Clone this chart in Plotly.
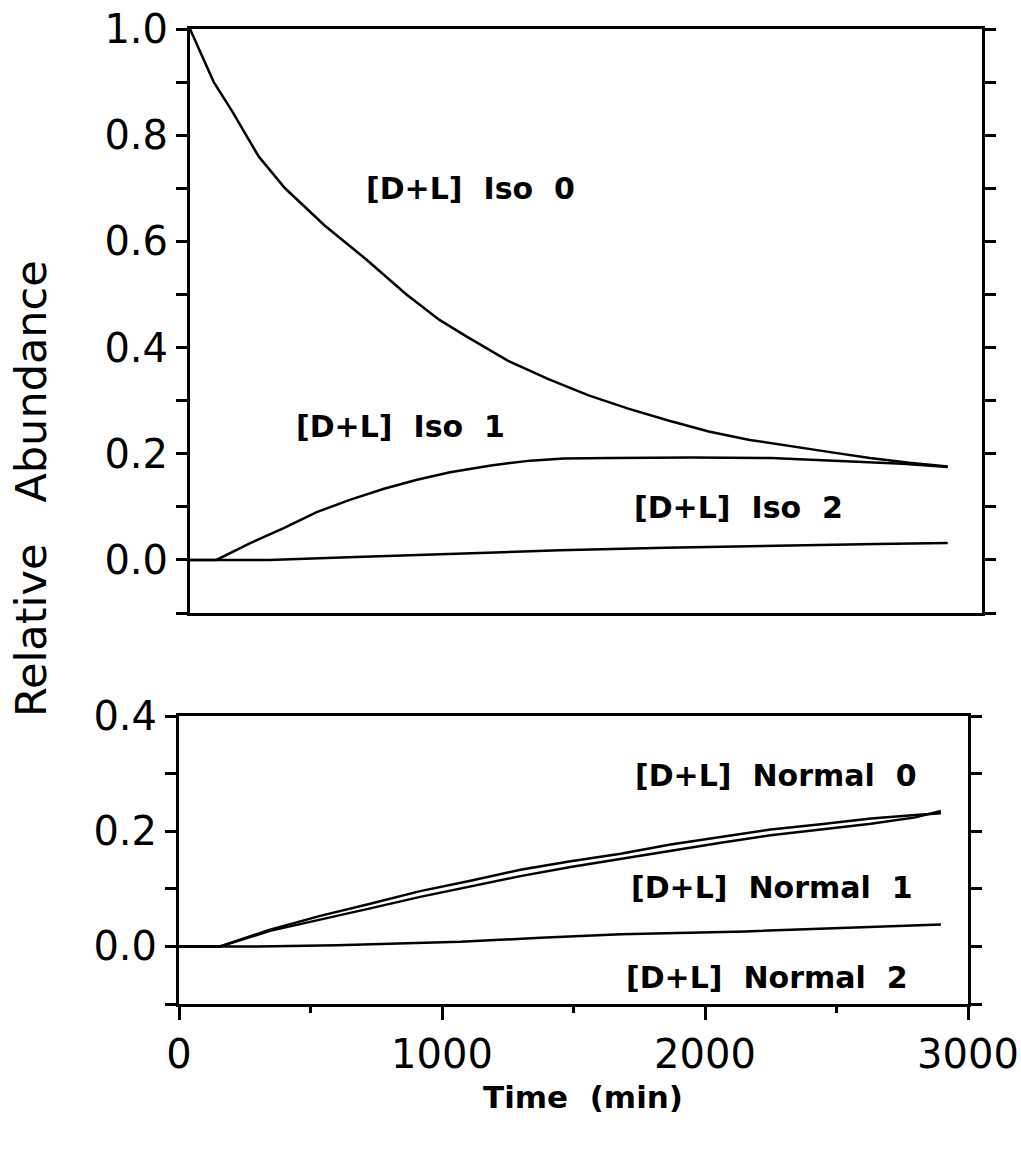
import plotly.graph_objects as go

W, H = 1021, 1155

# ---- data ----
iso0_t = [0, 90, 160, 260, 360, 510, 670, 820, 945, 1050, 1205, 1360, 1510, 1660, 1815, 1965, 2120, 2270, 2425, 2575, 2725, 2870]
iso0_v = [1.0, 0.90, 0.845, 0.76, 0.70, 0.63, 0.565, 0.50, 0.452, 0.42, 0.375, 0.34, 0.31, 0.285, 0.262, 0.242, 0.226, 0.214, 0.203, 0.192, 0.183, 0.176]

iso1_t = [0, 100, 230, 355, 480, 605, 735, 860, 985, 1140, 1290, 1415, 1600, 1900, 2200, 2350, 2510, 2700, 2870]
iso1_v = [0, 0, 0.032, 0.06, 0.09, 0.113, 0.134, 0.151, 0.165, 0.178, 0.187, 0.191, 0.192, 0.193, 0.192, 0.189, 0.186, 0.181, 0.175]

iso2_t = [0, 300, 600, 1000, 1400, 1800, 2200, 2600, 2870]
iso2_v = [0, 0, 0.005, 0.012, 0.018, 0.023, 0.027, 0.030, 0.032]

normal_t = [0, 156, 346, 537, 727, 917, 1108, 1298, 1489, 1679, 1869, 2060, 2250, 2440, 2631, 2800, 2897]
normal0_v = [0, 0, 0.029, 0.053, 0.074, 0.096, 0.114, 0.133, 0.148, 0.161, 0.177, 0.19, 0.203, 0.212, 0.222, 0.228, 0.231]
normal1_v = [0, 0, 0.027, 0.046, 0.066, 0.086, 0.104, 0.122, 0.138, 0.152, 0.167, 0.18, 0.193, 0.203, 0.213, 0.224, 0.235]

normal2_t = [0, 300, 600, 1070, 1375, 1680, 2155, 2440, 2725, 2897]
normal2_v = [0, 0, 0.002, 0.008, 0.015, 0.021, 0.026, 0.031, 0.036, 0.038]

top_yticks = [-0.1, 0.0, 0.1, 0.2, 0.3, 0.4, 0.5, 0.6, 0.7, 0.8, 0.9, 1.0]
top_ylabels = ["", "0.0", "", "0.2", "", "0.4", "", "0.6", "", "0.8", "", "1.0"]
bot_yticks = [-0.1, 0.0, 0.1, 0.2, 0.3, 0.4]
bot_ylabels = ["", "0.0", "", "0.2", "", "0.4"]
x_ticks = [0, 1000, 2000, 3000]

top_names = ["Iso\u00a0\u00a00", "Iso\u00a0\u00a01", "Iso\u00a0\u00a02"]
bot_names = ["Normal\u00a0\u00a00", "Normal\u00a0\u00a01", "Normal\u00a0\u00a02"]

# ---- figure ----
fig = go.Figure()
line = dict(color="black", width=2.5)
fig.add_trace(go.Scatter(x=iso0_t, y=iso0_v, mode="lines", line=line, xaxis="x", yaxis="y"))
fig.add_trace(go.Scatter(x=iso1_t, y=iso1_v, mode="lines", line=line, xaxis="x", yaxis="y"))
fig.add_trace(go.Scatter(x=iso2_t, y=iso2_v, mode="lines", line=line, xaxis="x", yaxis="y"))
fig.add_trace(go.Scatter(x=normal_t, y=normal0_v, mode="lines", line=line, xaxis="x2", yaxis="y2"))
fig.add_trace(go.Scatter(x=normal_t, y=normal1_v, mode="lines", line=line, xaxis="x2", yaxis="y2"))
fig.add_trace(go.Scatter(x=normal2_t, y=normal2_v, mode="lines", line=line, xaxis="x2", yaxis="y2"))

tickfont = dict(family="DejaVu Sans", size=40, color="black")

def px(x):
    return x / W

def py(y):
    return 1 - y / H

fig.update_layout(
    width=W, height=H,
    margin=dict(l=0, r=0, t=0, b=0, autoexpand=False),
    paper_bgcolor="white", plot_bgcolor="white",
    showlegend=False,
    xaxis=dict(domain=[px(190), px(982)], range=[0, 3000], showline=True, linecolor="black",
               linewidth=3, mirror=True, ticks="", showticklabels=False, showgrid=False,
               zeroline=False, anchor="y", automargin=False),
    yaxis=dict(domain=[py(613), py(29)], range=[-0.1, 1.0], showline=True, linecolor="black",
               linewidth=3, mirror="ticks", ticks="outside", ticklen=11, tickwidth=2.5,
               tickcolor="black", tickvals=top_yticks, ticktext=top_ylabels, tickfont=tickfont,
               showgrid=False, zeroline=False, anchor="x", automargin=False),
    xaxis2=dict(domain=[px(179), px(968)], range=[0, 3000], showline=True, linecolor="black",
                linewidth=3, mirror=True, ticks="outside", ticklen=13, tickwidth=2.5,
                tickcolor="black", tickvals=x_ticks, tickfont=tickfont, showgrid=False,
                zeroline=False, anchor="y2", automargin=False,
                minor=dict(dtick=500, tick0=0, ticks="outside", ticklen=6, tickwidth=2.5,
                           tickcolor="black", showgrid=False)),
    yaxis2=dict(domain=[py(1004), py(716)], range=[-0.1, 0.4], showline=True, linecolor="black",
                linewidth=3, mirror="ticks", ticks="outside", ticklen=11, tickwidth=2.5,
                tickcolor="black", tickvals=bot_yticks, ticktext=bot_ylabels, tickfont=tickfont,
                showgrid=False, zeroline=False, anchor="x2", automargin=False),
)

ann_font = dict(family="DejaVu Sans", size=30, color="black")
top_pos = [(470, 188), (400, 427), (738, 507)]
bot_pos = [(776, 775), (772, 887), (767, 977)]
for name, (x, y) in zip(top_names, top_pos):
    fig.add_annotation(x=px(x), y=py(y), xref="paper", yref="paper", showarrow=False,
                       text="<b>[D+L]\u00a0\u00a0" + name + "</b>", font=ann_font,
                       xanchor="center", yanchor="middle")
for name, (x, y) in zip(bot_names, bot_pos):
    fig.add_annotation(x=px(x), y=py(y), xref="paper", yref="paper", showarrow=False,
                       text="<b>[D+L]\u00a0\u00a0" + name + "</b>", font=ann_font,
                       xanchor="center", yanchor="middle")

fig.add_annotation(x=px(31), y=py(489), xref="paper", yref="paper", showarrow=False,
                   text="Relative\u00a0\u00a0\u00a0Abundance", textangle=-90,
                   font=dict(family="DejaVu Sans", size=43, color="black"),
                   xanchor="center", yanchor="middle")
fig.add_annotation(x=px(583), y=py(1097), xref="paper", yref="paper", showarrow=False,
                   text="<b>Time\u00a0\u00a0(min)</b>",
                   font=dict(family="DejaVu Sans", size=31, color="black"),
                   xanchor="center", yanchor="middle")

fig.write_html("out.html")
